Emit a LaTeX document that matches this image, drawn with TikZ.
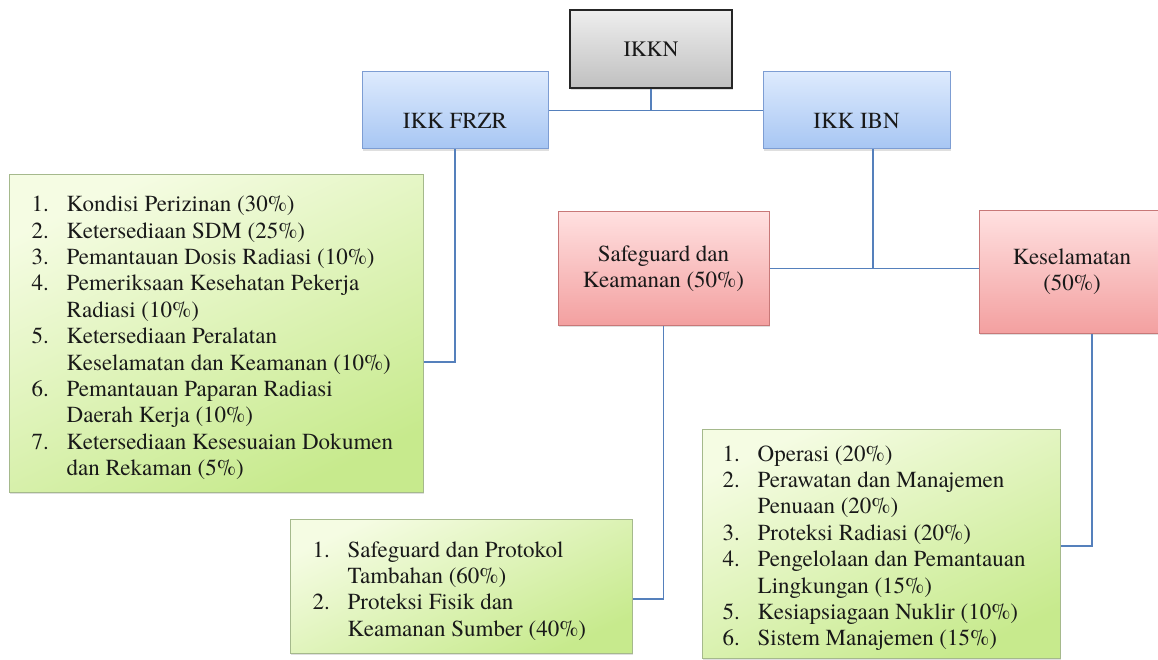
\documentclass[tikz,border=0pt]{standalone}
\usepackage{fontspec}
\setmainfont{texgyretermes}[Extension=.otf, UprightFont=*-regular, BoldFont=*-bold, ItalicFont=*-italic, BoldItalicFont=*-bolditalic]
\usetikzlibrary{shadows,calc}
\definecolor{lineblue}{HTML}{5580BC}
\definecolor{bluetop}{HTML}{DDEAFD}
\definecolor{bluebot}{HTML}{A7C6F3}
\definecolor{blueedge}{HTML}{7D9DD3}
\definecolor{redtop}{HTML}{FFE0E0}
\definecolor{redbot}{HTML}{F3A0A0}
\definecolor{rededge}{HTML}{C87878}
\definecolor{greentop}{HTML}{F5FCE3}
\definecolor{greenbot}{HTML}{C7EA8D}
\definecolor{greenedge}{HTML}{A5B98C}
\definecolor{graytop}{HTML}{EEEEEE}
\definecolor{graybot}{HTML}{C0C0C0}
\tikzset{
  x=1pt, y=-1pt,
  boxbase/.style={rectangle, inner sep=0pt, line width=1pt, align=center,
    font=\rmfamily\fontsize{23}{26}\selectfont, text=black!90,
    drop shadow={opacity=0.25, shadow xshift=0.8pt, shadow yshift=-2pt}},
  graybox/.style={boxbase, draw=black!85, line width=1.6pt, top color=graytop, bottom color=graybot,
    font=\rmfamily\fontsize{22}{26}\selectfont},
  bluebox/.style={boxbase, draw=blueedge, top color=bluetop, bottom color=bluebot,
    text height=37pt, text depth=0pt},
  redbox/.style={boxbase, draw=rededge, top color=redtop, bottom color=redbot},
  greenbox/.style={boxbase, draw=greenedge, top color=greentop, bottom color=greenbot, shading angle=25},
  conn/.style={draw=lineblue, line width=1.4pt},
  listtext/.style={anchor=north west, inner sep=0pt, align=left, text=black!90,
    font=\rmfamily\fontsize{23}{26.4}\selectfont}
}
\begin{document}
\begin{tikzpicture}
\useasboundingbox (0,0) rectangle (1158,660);
% top level boxes
\node[graybox, minimum width=162pt, minimum height=78pt] (ikkn) at (651,49) {IKKN};
\node[bluebox, minimum width=186pt, minimum height=77pt] (frzr) at (455,110.5) {IKK FRZR};
\node[bluebox, minimum width=187pt, minimum height=77pt] (ibn) at (856.5,110.5) {IKK IBN};
\node[redbox, minimum width=211pt, minimum height=113pt] (safe) at (663.5,268.5) {Safeguard dan\\Keamanan (50\%)};
\node[redbox, minimum width=186pt, minimum height=122pt] (kes) at (1072,272) {Keselamatan\\(50\%)};
% list boxes
\node[greenbox, minimum width=414pt, minimum height=317pt] (leftbox) at (216,333.5) {};
\node[greenbox, minimum width=342pt, minimum height=134pt] (midbox) at (461,586) {};
\node[greenbox, minimum width=358pt, minimum height=229pt] (rightbox) at (881,543.5) {};
% list texts
\node[listtext] (lefttxt) at ($(leftbox.north west)+(23,18.5)$) {%
\begin{tabular}{@{}p{35pt}@{}l@{}}
1. & Kondisi Perizinan (30\%)\\
2. & Ketersediaan SDM (25\%)\\
3. & Pemantauan Dosis Radiasi (10\%)\\
4. & Pemeriksaan Kesehatan Pekerja\\
   & Radiasi (10\%)\\
5. & Ketersediaan Peralatan\\
   & Keselamatan dan Keamanan (10\%)\\
6. & Pemantauan Paparan Radiasi\\
   & Daerah Kerja (10\%)\\
7. & Ketersediaan Kesesuaian Dokumen\\
   & dan Rekaman (5\%)
\end{tabular}};
\node[listtext] (midtxt) at ($(midbox.north west)+(23,20)$) {%
\begin{tabular}{@{}p{35pt}@{}l@{}}
1. & Safeguard dan Protokol\\
   & Tambahan (60\%)\\
2. & Proteksi Fisik dan\\
   & Keamanan Sumber (40\%)
\end{tabular}};
\begin{scope}
\clip (702,429) rectangle (1060,651);
\node[listtext] (righttxt) at ($(rightbox.north west)+(21,14)$) {%
\begin{tabular}{@{}p{35pt}@{}l@{}}
1. & Operasi (20\%)\\
2. & Perawatan dan Manajemen\\
   & Penuaan (20\%)\\
3. & Proteksi Radiasi (20\%)\\
4. & Pengelolaan dan Pemantauan\\
   & Lingkungan (15\%)\\
5. & Kesiapsiagaan Nuklir (10\%)\\
6. & Sistem Manajemen (15\%)
\end{tabular}};
\end{scope}
% connectors
\draw[conn] (ikkn.south) -- (ikkn.south |- frzr.east);
\draw[conn] (frzr.east) -- (ibn.west);
\draw[conn] (frzr.south) |- ([yshift=-28.5pt]leftbox.east);
\draw[conn] ([xshift=16.5pt]ibn.south) -- ([xshift=16.5pt]ibn.south |- safe.east);
\draw[conn] (safe.east) -- (safe.east -| kes.west);
\draw[conn] (safe.south) |- ([yshift=-13pt]midbox.east);
\draw[conn] ([xshift=20pt]kes.south) |- ([yshift=-2.5pt]rightbox.east);
\end{tikzpicture}
\end{document}
